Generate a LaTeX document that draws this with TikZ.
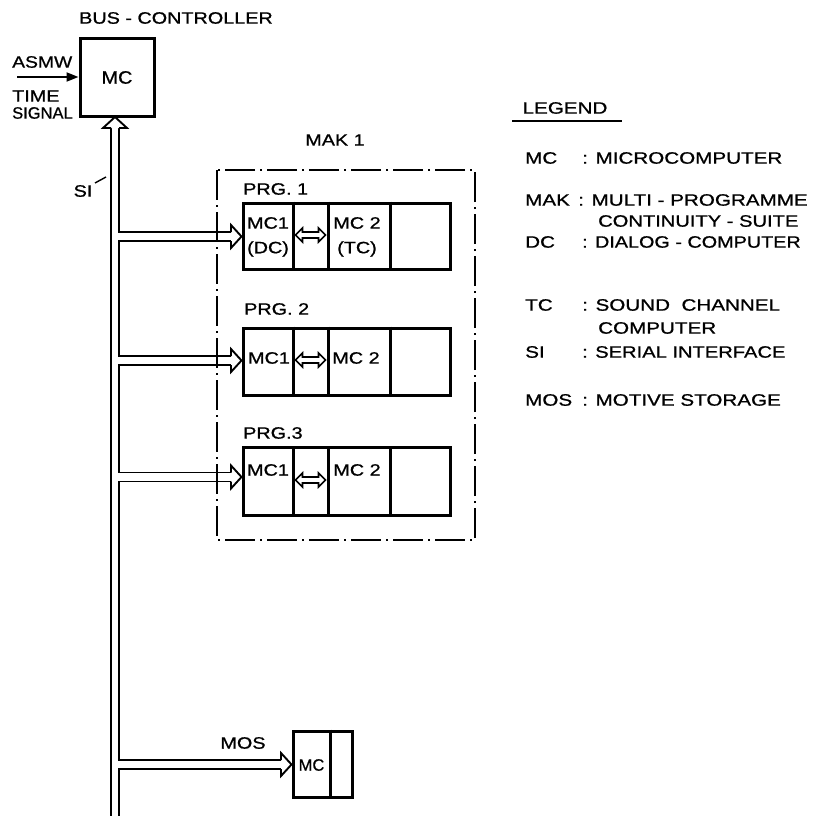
\documentclass[tikz,border=0pt]{standalone}
\usepackage{fontspec}
\setmainfont{Liberation Sans}
\newfontfamily\letterfont[FakeBold=0.8]{Liberation Sans}
\usetikzlibrary{arrows.meta}
\newcommand{\lett}[2][1.2]{\scalebox{#1}[1]{#2}}
\begin{document}
\begin{tikzpicture}[x=1pt,y=-1pt,
  txt/.style={inner sep=0pt, font=\letterfont\fontsize{16.5}{18}\selectfont},
  box/.style={draw, line width=3pt, inner sep=0pt, font=\letterfont\fontsize{16.5}{18}\selectfont},
  bus/.style={line width=1.9pt},
  head/.style={line width=1.9pt, fill=white, line join=miter},
  divider/.style={line width=3pt},
  dd/.style={line width=1.6pt, dash pattern=on 30pt off 5pt on 2pt off 5pt},
  dblarrow/.pic={\draw[line width=1.6pt, fill=white, line join=miter]
     (-15,0) -- (-8,-7) -- (-8,-3) -- (8,-3) -- (8,-7) -- (15,0)
     -- (8,7) -- (8,3) -- (-8,3) -- (-8,7) -- cycle;}]
\useasboundingbox (0,0) rectangle (817,816);

% ---------- bus controller ----------
\node[txt] (title) at (176,18) {\lett{BUS - CONTROLLER}};
\node[box, minimum width=74pt, minimum height=77pt] (bc) at (117,77.5) {\lett[1.1]{\fontsize{18}{20}\selectfont MC}};
\node[txt, anchor=west] (asmw) at (12,62) {\lett[1.17]{ASMW}};
\node[txt, anchor=west] (time) at (12,96) {\lett[1.2]{TIME}};
\node[txt, anchor=west] (signal) at (12,113) {\lett[1.0]{SIGNAL}};
\coordinate (asmwS) at (17,77);
\draw[line width=2pt, -{Triangle[length=12pt,width=9pt]}] (asmwS) -- (bc.west |- asmwS);

% ---------- SI label ----------
\node[txt] (si) at (83,191) {\lett{SI}};
\coordinate (siA) at (95,183);
\coordinate (siB) at (106,177);
\draw[line width=1.4pt] (siA) -- (siB);

% ---------- MAK 1 ----------
\node[txt] (makl) at (335,140) {\lett{MAK 1}};
\coordinate (makNW) at (217,170);
\coordinate (makSE) at (475,540);
\draw[dd] (makNW) rectangle (makSE);

% PRG boxes
\node[txt, anchor=west] (prg1) at (243,189) {\lett{PRG. 1}};
\node[box, minimum width=207pt, minimum height=66pt] (p1) at (346.5,236) {};
\node[txt, anchor=west] (prg2) at (244,309) {\lett{PRG. 2}};
\node[box, minimum width=207pt, minimum height=67pt] (p2) at (346.5,361.5) {};
\node[txt, anchor=west] (prg3) at (243,433) {\lett{PRG.3}};
\node[box, minimum width=207pt, minimum height=68pt] (p3) at (346.5,481.5) {};

\foreach \b in {p1,p2,p3}{
  \foreach \x in {293,328,390}{
    \draw[divider] (\b.north -| \x,0) -- (\b.south -| \x,0);
  }
}

\node[txt] (p1a) at (268,223) {\lett{MC1}};
\node[txt] (p1b) at (268,249) {\lett{(DC)}};
\node[txt] (p1c) at (357,223) {\lett{MC 2}};
\node[txt] (p1d) at (357,249) {\lett{(TC)}};
\node[txt] (p2a) at (269,358) {\lett{MC1}};
\node[txt] (p2c) at (356,358) {\lett{MC 2}};
\node[txt] (p3a) at (268,470) {\lett{MC1}};
\node[txt] (p3c) at (357,470) {\lett{MC 2}};

\pic at (310.5,235) {dblarrow};
\pic at (310.5,360) {dblarrow};
\pic at (310.5,480) {dblarrow};

% ---------- MOS ----------
\node[txt] (mosl) at (243,743) {\lett{MOS}};
\node[box, minimum width=59pt, minimum height=66pt] (mos) at (322.5,764) {};
\draw[divider] (mos.north -| 330,0) -- (mos.south -| 330,0);
\node[txt] (mosmc) at (311.5,765) {MC};

% ---------- bus lines ----------
\coordinate (bustip) at (115,117);
\draw[bus] (111,128) -- (111,816);
\draw[bus] (119,128) -- (119,232) -- (231,232);
\draw[bus] (231,241) -- (119,241) -- (119,356) -- (231,356);
\draw[bus] (231,365) -- (119,365) -- (119,472.5) -- (231,472.5);
\draw[bus] (231,481.5) -- (119,481.5) -- (119,760) -- (281,760);
\draw[bus] (281,769) -- (119,769) -- (119,816);

\draw[head] (111,128) -- (103,128) -- (bustip) -- (127,128) -- (119,128);
\draw[head] (231,232) -- (231,225) -- (p1.west |- 0,236.5) -- (231,248) -- (231,241);
\draw[head] (231,356) -- (231,349) -- (p2.west |- 0,360.5) -- (231,372) -- (231,365);
\draw[head] (231,472.5) -- (231,465.5) -- (p3.west |- 0,477) -- (231,488.5) -- (231,481.5);
\draw[head] (281,760) -- (281,753) -- (mos.west |- 0,764.5) -- (281,776) -- (281,769);

% ---------- legend ----------
\node[txt] (leg) at (565,108) {\lett[1.25]{LEGEND}};
\coordinate (ulA) at (512,121);
\coordinate (ulB) at (622,121);
\draw[line width=1.5pt] (ulA) -- (ulB);

\node[txt, anchor=west] (kMC) at (525,158) {\lett[1.25]{MC}};
\node[txt, anchor=west] (vMC) at (582,158) {\lett[1.25]{: MICROCOMPUTER}};
\node[txt, anchor=west] (kMAK) at (525,200) {\lett[1.25]{MAK}};
\node[txt, anchor=west] (vMAK) at (578,200) {\lett[1.25]{: MULTI - PROGRAMME}};
\node[txt, anchor=west] (vMAK2) at (598,221) {\lett[1.22]{CONTINUITY - SUITE}};
\node[txt, anchor=west] (kDC) at (525,242) {\lett[1.25]{DC}};
\node[txt, anchor=west] (vDC) at (582,242) {\lett[1.2]{: DIALOG - COMPUTER}};
\node[txt, anchor=west] (kTC) at (525,305) {\lett[1.25]{TC}};
\node[txt, anchor=west] (vTC) at (582,305) {\lett[1.25]{: SOUND\ \ CHANNEL}};
\node[txt, anchor=west] (vTC2) at (598,328) {\lett[1.25]{COMPUTER}};
\node[txt, anchor=west] (kSI) at (525,352) {\lett[1.25]{SI}};
\node[txt, anchor=west] (vSI) at (582,352) {\lett[1.22]{: SERIAL INTERFACE}};
\node[txt, anchor=west] (kMOS) at (525,400) {\lett[1.25]{MOS}};
\node[txt, anchor=west] (vMOS) at (582,400) {\lett[1.25]{: MOTIVE STORAGE}};
\end{tikzpicture}
\end{document}
